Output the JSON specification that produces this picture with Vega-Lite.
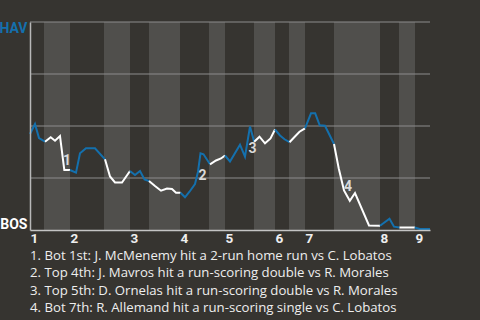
{
  "$schema": "https://vega.github.io/schema/vega-lite/v6.json",
  "width": 400,
  "height": 208,
  "autosize": {"type": "none"},
  "padding": {"left": 30, "top": 22, "right": 50, "bottom": 90},
  "background": "#363430",
  "config": {"view": {"stroke": null}, "font": "Roboto"},
  "title": {
    "text": [
      "1. Bot 1st: J. McMenemy hit a 2-run home run vs C. Lobatos",
      "2. Top 4th: J. Mavros hit a run-scoring double vs R. Morales",
      "3. Top 5th: D. Ornelas hit a run-scoring double vs R. Morales",
      "4. Bot 7th: R. Allemand hit a run-scoring single vs C. Lobatos"
    ],
    "orient": "bottom",
    "anchor": "start",
    "frame": "group",
    "font": "Open Sans",
    "fontSize": 13.2,
    "fontWeight": "normal",
    "color": "#eeeeee",
    "lineHeight": 17.6,
    "offset": 5
  },
  "datasets": {
    "bands": [
      {"half": "B1", "start": 2.8, "end": 8},
      {"half": "B2", "start": 14.8, "end": 20},
      {"half": "B3", "start": 23.8, "end": 30},
      {"half": "B4", "start": 35.8, "end": 39},
      {"half": "B5", "start": 44.8, "end": 49},
      {"half": "B6", "start": 51.8, "end": 55},
      {"half": "B7", "start": 60.8, "end": 70},
      {"half": "B8", "start": 73.8, "end": 77}
    ],
    "grid": [{"p": 0.25}, {"p": 0.5}, {"p": 0.75}, {"p": 1}],
    "wp": [
      {"half": "T1", "team": "HAV", "x": 0, "y": 0.4615},
      {"half": "T1", "team": "HAV", "x": 1, "y": 0.5096},
      {"half": "T1", "team": "HAV", "x": 1.8, "y": 0.4423},
      {"half": "T1", "team": "HAV", "x": 3, "y": 0.4245},
      {"half": "B1", "team": "BOS", "x": 3, "y": 0.4245},
      {"half": "B1", "team": "BOS", "x": 4.14, "y": 0.4457},
      {"half": "B1", "team": "BOS", "x": 5, "y": 0.4293},
      {"half": "B1", "team": "BOS", "x": 6, "y": 0.4519},
      {"half": "B1", "team": "BOS", "x": 6.86, "y": 0.2885},
      {"half": "B1", "team": "BOS", "x": 8, "y": 0.2885},
      {"half": "T2", "team": "HAV", "x": 8, "y": 0.2885},
      {"half": "T2", "team": "HAV", "x": 9.2, "y": 0.2755},
      {"half": "T2", "team": "HAV", "x": 10, "y": 0.3688},
      {"half": "T2", "team": "HAV", "x": 11.2, "y": 0.3928},
      {"half": "T2", "team": "HAV", "x": 13, "y": 0.3928},
      {"half": "T2", "team": "HAV", "x": 15, "y": 0.3399},
      {"half": "B2", "team": "BOS", "x": 15, "y": 0.3399},
      {"half": "B2", "team": "BOS", "x": 16, "y": 0.2572},
      {"half": "B2", "team": "BOS", "x": 17, "y": 0.2284},
      {"half": "B2", "team": "BOS", "x": 18.4, "y": 0.2284},
      {"half": "B2", "team": "BOS", "x": 20, "y": 0.2837},
      {"half": "T3", "team": "HAV", "x": 20, "y": 0.2837},
      {"half": "T3", "team": "HAV", "x": 21, "y": 0.2644},
      {"half": "T3", "team": "HAV", "x": 22, "y": 0.2837},
      {"half": "T3", "team": "HAV", "x": 22.9, "y": 0.2428},
      {"half": "T3", "team": "HAV", "x": 23.8, "y": 0.2356},
      {"half": "B3", "team": "BOS", "x": 23.8, "y": 0.2356},
      {"half": "B3", "team": "BOS", "x": 25, "y": 0.2115},
      {"half": "B3", "team": "BOS", "x": 26.2, "y": 0.1889},
      {"half": "B3", "team": "BOS", "x": 27.4, "y": 0.1995},
      {"half": "B3", "team": "BOS", "x": 28.4, "y": 0.1971},
      {"half": "B3", "team": "BOS", "x": 29.2, "y": 0.1793},
      {"half": "B3", "team": "BOS", "x": 30.1, "y": 0.1793},
      {"half": "T4", "team": "HAV", "x": 30.1, "y": 0.1793},
      {"half": "T4", "team": "HAV", "x": 31, "y": 0.1572},
      {"half": "T4", "team": "HAV", "x": 31.9, "y": 0.1841},
      {"half": "T4", "team": "HAV", "x": 33, "y": 0.2212},
      {"half": "T4", "team": "HAV", "x": 33.6, "y": 0.2803},
      {"half": "T4", "team": "HAV", "x": 34.1, "y": 0.3688},
      {"half": "T4", "team": "HAV", "x": 34.7, "y": 0.3639},
      {"half": "T4", "team": "HAV", "x": 36, "y": 0.3159},
      {"half": "B4", "team": "BOS", "x": 36, "y": 0.3159},
      {"half": "B4", "team": "BOS", "x": 37.2, "y": 0.3341},
      {"half": "B4", "team": "BOS", "x": 38.2, "y": 0.3438},
      {"half": "B4", "team": "BOS", "x": 39, "y": 0.3582},
      {"half": "T5", "team": "HAV", "x": 39, "y": 0.3582},
      {"half": "T5", "team": "HAV", "x": 40, "y": 0.3293},
      {"half": "T5", "team": "HAV", "x": 42, "y": 0.4101},
      {"half": "T5", "team": "HAV", "x": 43, "y": 0.3524},
      {"half": "T5", "team": "HAV", "x": 44, "y": 0.4976},
      {"half": "T5", "team": "HAV", "x": 44.84, "y": 0.4245},
      {"half": "B5", "team": "BOS", "x": 44.84, "y": 0.4245},
      {"half": "B5", "team": "BOS", "x": 45.9, "y": 0.4486},
      {"half": "B5", "team": "BOS", "x": 47, "y": 0.4168},
      {"half": "B5", "team": "BOS", "x": 48.1, "y": 0.4399},
      {"half": "B5", "team": "BOS", "x": 49, "y": 0.4832},
      {"half": "T6", "team": "HAV", "x": 49, "y": 0.4832},
      {"half": "T6", "team": "HAV", "x": 50, "y": 0.4543},
      {"half": "T6", "team": "HAV", "x": 50.9, "y": 0.4361},
      {"half": "T6", "team": "HAV", "x": 51.9, "y": 0.4221},
      {"half": "B6", "team": "BOS", "x": 51.9, "y": 0.4221},
      {"half": "B6", "team": "BOS", "x": 52.8, "y": 0.4447},
      {"half": "B6", "team": "BOS", "x": 53.9, "y": 0.4726},
      {"half": "B6", "team": "BOS", "x": 55, "y": 0.4889},
      {"half": "T7", "team": "HAV", "x": 55, "y": 0.4889},
      {"half": "T7", "team": "HAV", "x": 56.2, "y": 0.5611},
      {"half": "T7", "team": "HAV", "x": 57.04, "y": 0.5611},
      {"half": "T7", "team": "HAV", "x": 57.94, "y": 0.5034},
      {"half": "T7", "team": "HAV", "x": 59, "y": 0.5014},
      {"half": "T7", "team": "HAV", "x": 60.8, "y": 0.4135},
      {"half": "B7", "team": "BOS", "x": 60.8, "y": 0.4135},
      {"half": "B7", "team": "BOS", "x": 61.74, "y": 0.2966},
      {"half": "B7", "team": "BOS", "x": 62.8, "y": 0.1899},
      {"half": "B7", "team": "BOS", "x": 63.96, "y": 0.1404},
      {"half": "B7", "team": "BOS", "x": 65, "y": 0.1779},
      {"half": "B7", "team": "BOS", "x": 67.8, "y": 0.0216},
      {"half": "B7", "team": "BOS", "x": 70, "y": 0.0202},
      {"half": "T8", "team": "HAV", "x": 70, "y": 0.0202},
      {"half": "T8", "team": "HAV", "x": 71.9, "y": 0.0543},
      {"half": "T8", "team": "HAV", "x": 72.8, "y": 0.0159},
      {"half": "T8", "team": "HAV", "x": 73.9, "y": 0.012},
      {"half": "B8", "team": "BOS", "x": 73.9, "y": 0.012},
      {"half": "B8", "team": "BOS", "x": 76.96, "y": 0.012},
      {"half": "T9", "team": "HAV", "x": 76.96, "y": 0.012},
      {"half": "T9", "team": "HAV", "x": 77.94, "y": 0.0048},
      {"half": "T9", "team": "HAV", "x": 80, "y": 0.0048}
    ],
    "notes": [
      {"n": "1", "x": 7.4, "y": 0.3317},
      {"n": "2", "x": 34.5, "y": 0.2596},
      {"n": "3", "x": 44.5, "y": 0.3894},
      {"n": "4", "x": 63.6, "y": 0.2067}
    ]
  },
  "layer": [
    {
      "data": {"name": "bands"},
      "mark": {"type": "rect", "color": "#504f4c"},
      "encoding": {
        "x": {
          "field": "start",
          "type": "quantitative",
          "title": null,
          "scale": {"domain": [0, 80], "nice": false, "zero": false},
          "axis": {
            "title": null,
            "values": [0, 8, 20, 30, 39, 49, 55, 70, 77],
            "labelExpr": "'' + (indexof([0, 8, 20, 30, 39, 49, 55, 70, 77], datum.value) + 1)",
            "labelAlign": "left",
            "labelBaseline": "top",
            "labelPadding": 1,
            "labelFont": "Roboto",
            "labelFontSize": 13.5,
            "labelFontWeight": "bold",
            "labelColor": "#eeeeee",
            "labelFlush": false,
            "labelOverlap": false,
            "labelBound": false,
            "ticks": false,
            "grid": false,
            "domain": true,
            "domainColor": "#c4c4c4",
            "domainWidth": 1.5,
            "zindex": 1
          }
        },
        "x2": {"field": "end"}
      }
    },
    {
      "data": {"name": "grid"},
      "mark": {"type": "rule", "color": "#8b8b8b", "strokeWidth": 1.2},
      "encoding": {
        "y": {
          "field": "p",
          "type": "quantitative",
          "title": null,
          "scale": {"domain": [0, 1], "nice": false},
          "axis": {
            "title": null,
            "values": [0, 1],
            "labelExpr": "datum.value == 1 ? 'HAV' : 'BOS'",
            "labelFlush": true,
            "labelFlushOffset": 1,
            "labelFont": "Roboto",
            "labelFontSize": 14,
            "labelFontWeight": "bold",
            "labelColor": {"condition": {"test": "datum.value == 1", "value": "#1470ad"}, "value": "#ffffff"},
            "labelPadding": 3,
            "ticks": false,
            "grid": false,
            "domain": true,
            "domainColor": "#b8b8b8",
            "domainWidth": 1.5,
            "zindex": 1
          }
        }
      }
    },
    {
      "data": {"name": "wp"},
      "mark": {"type": "line", "strokeWidth": 2},
      "encoding": {
        "x": {"field": "x", "type": "quantitative", "title": null},
        "y": {"field": "y", "type": "quantitative", "title": null},
        "color": {
          "field": "team",
          "type": "nominal",
          "scale": {"domain": ["HAV", "BOS"], "range": ["#1470ad", "#ffffff"]},
          "legend": null
        },
        "detail": {"field": "half"}
      }
    },
    {
      "data": {"name": "notes"},
      "mark": {"type": "text", "font": "Roboto", "fontWeight": "bold", "fontSize": 14, "color": "#d9d9d9", "align": "center", "baseline": "middle"},
      "encoding": {
        "x": {"field": "x", "type": "quantitative", "title": null},
        "y": {"field": "y", "type": "quantitative", "title": null},
        "text": {"field": "n"}
      }
    }
  ]
}
